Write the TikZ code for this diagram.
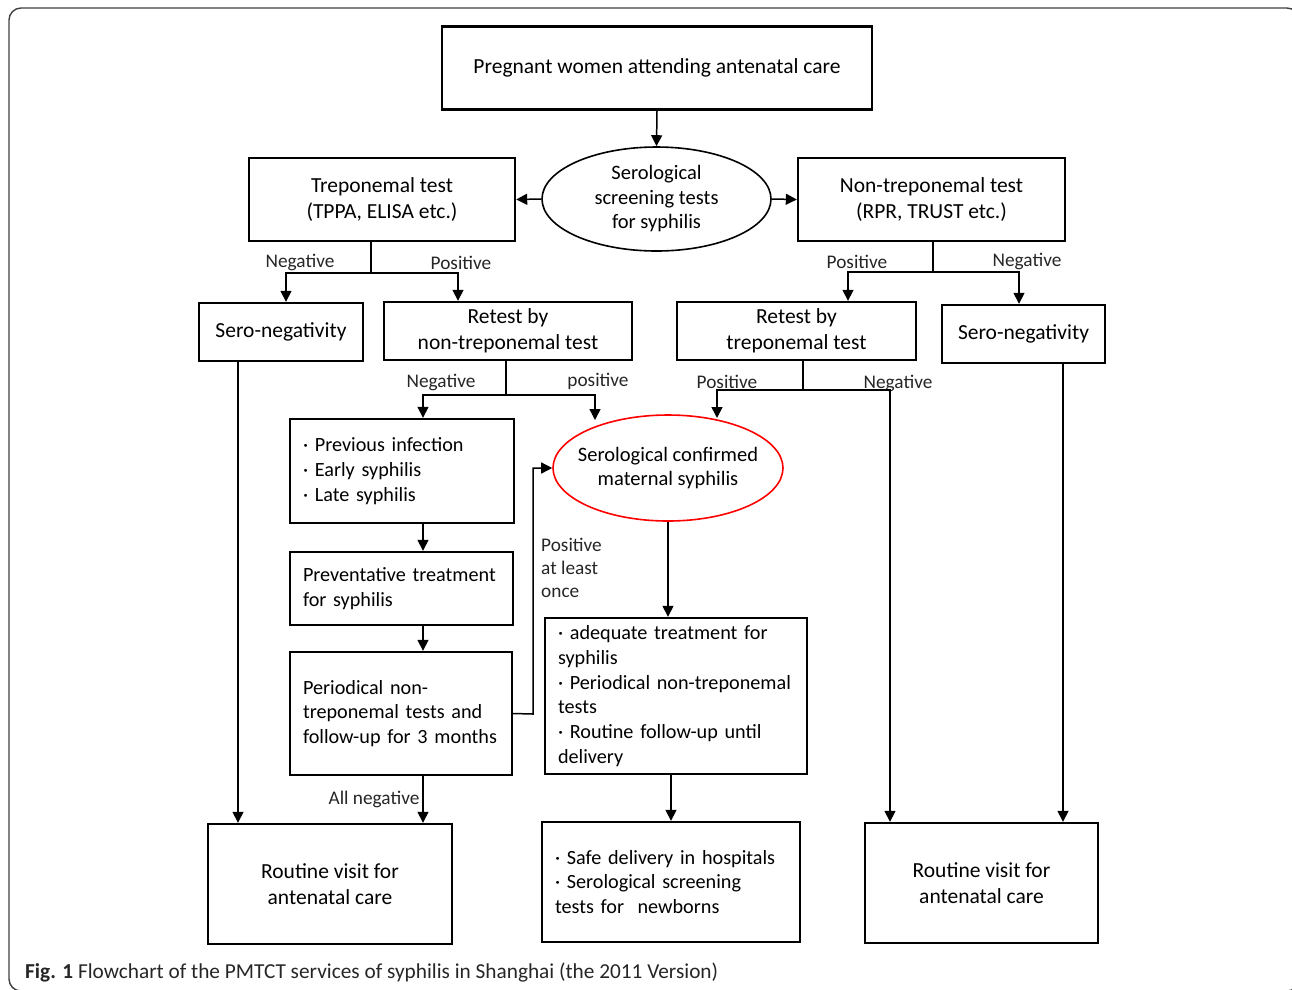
\documentclass[tikz,border=0pt]{standalone}
\usepackage{fontspec}
\setmainfont{Carlito}
\newfontfamily\listfam{Carlito}[WordSpace=0.8]
\usepackage{tikz}
\usetikzlibrary{shapes.geometric,arrows.meta}
\newcommand\boxfont{\fontsize{21.5}{25.5}\selectfont}
\newcommand\listfont{\listfam\fontsize{20.2}{24.7}\selectfont}
\newcommand\ovalfont{\fontsize{20.5}{24.5}\selectfont}
\newcommand\tagfont{\fontsize{19.3}{23}\selectfont}
\tikzset{
  box/.style={draw=black, line width=2.4pt, align=center, font=\boxfont, inner sep=0pt},
  listbox/.style={box, align=left, font=\listfont, inner xsep=13pt},
  oval/.style={ellipse, draw=black, line width=1.6pt, align=center, font=\ovalfont, inner sep=-15pt},
  redoval/.style={oval, draw=red},
  link/.style={-{Triangle[length=11pt,width=11pt]}, draw=black, line width=1.5pt},
  plain/.style={draw=black, line width=1.5pt},
  tagtext/.style={font=\tagfont, text=black!85, inner sep=0pt},
  frame/.style={draw=black!75, line width=1.4pt, rounded corners=12pt}
}

\begin{document}
\begin{tikzpicture}[x=1pt, y=-1pt]
  \useasboundingbox (0,0) rectangle (1292,989);
  \clip (0,0) rectangle (1292,989);
  \draw[frame] (9,8) rectangle (1299,991);

  % Screening
  \node[box, minimum width=430pt, minimum height=83pt] (top) at (657,68) {Pregnant women attending antenatal care};
  \node[oval, minimum width=229pt, minimum height=104pt] (screen) at (656.5,199) {Serological\\screening tests\\for syphilis};
  \node[box, minimum width=266pt, minimum height=83pt] (trep) at (382,199.5) {Treponemal test\\(TPPA, ELISA etc.)};
  \node[box, minimum width=267pt, minimum height=83pt] (nontrep) at (931.5,199.5) {Non-treponemal test\\(RPR, TRUST etc.)};
  \draw[link] (top.south) -- (screen.north);
  \draw[link] (screen.west) -- (trep.east);
  \draw[link] (screen.east) -- (nontrep.west);

  % First results
  \node[box, minimum width=164pt, minimum height=58pt] (seroL) at (281,332) {Sero-negativity};
  \node[box, minimum width=248pt, minimum height=58pt] (retestN) at (508,331) {Retest by\\non-treponemal test};
  \node[box, minimum width=239pt, minimum height=58pt] (retestT) at (796.5,331) {Retest by\\treponemal test};
  \node[box, minimum width=163pt, minimum height=58pt] (seroR) at (1023.5,334) {Sero-negativity};

  \coordinate (tj) at (371,273);
  \coordinate (tl) at (286,273);
  \coordinate (tr) at (458,273);
  \draw[plain] (tj |- trep.south) -- (tj);
  \draw[link] (tj) -- (tl) -- (tl |- seroL.north);
  \draw[link] (tj) -- (tr) -- (tr |- retestN.north);
  \node[tagtext] (tneg) at (300,262) {Negative};
  \node[tagtext] (tpos) at (461,263) {Positive};

  \coordinate (nj) at (933,272);
  \coordinate (nl) at (848,272);
  \coordinate (nr) at (1019,272);
  \draw[plain] (nj |- nontrep.south) -- (nj);
  \draw[link] (nj) -- (nl) -- (nl |- retestT.north);
  \draw[link] (nj) -- (nr) -- (nr |- seroR.north);
  \node[tagtext] (npos) at (857,262) {Positive};
  \node[tagtext] (nneg) at (1027,261) {Negative};

  % Middle part
  \node[listbox, minimum width=224pt, minimum height=104pt, text width=198pt] (prev) at (402,471) {· Previous infection\\· Early syphilis\\· Late syphilis};
  \node[redoval, minimum width=230pt, minimum height=106pt] (confirm) at (668,468) {Serological confirmed\\maternal syphilis};
  \node[listbox, minimum width=223pt, minimum height=73pt, text width=197pt] (prevent) at (401.5,588.5) {Preventative treatment\\for syphilis};
  \node[listbox, minimum width=222pt, minimum height=123pt, text width=196pt] (period) at (401,713.5) {Periodical non-\\treponemal tests and\\follow-up for 3 months};
  \node[listbox, minimum width=262pt, minimum height=156pt, text width=236pt] (adequate) at (676,696) {· adequate treatment for\\syphilis\\· Periodical non-treponemal\\tests\\· Routine follow-up until\\delivery};

  \coordinate (rj) at (506,395);
  \coordinate (rl) at (423,395);
  \coordinate (rr) at (595,395);
  \coordinate (cin) at (595,420);
  \draw[plain] (rj |- retestN.south) -- (rj);
  \draw[link] (rj) -- (rl) -- (rl |- prev.north);
  \draw[link] (rj) -- (rr) -- (cin);
  \node[tagtext] (rneg) at (441,382) {Negative};
  \node[tagtext] (rpos) at (598,381) {positive};

  \coordinate (sj) at (803,390);
  \coordinate (sl) at (717,390);
  \coordinate (sr) at (890,390);
  \coordinate (tin) at (717,418);
  \draw[plain] (sj |- retestT.south) -- (sj);
  \draw[link] (sj) -- (sl) -- (tin);
  \node[tagtext] (spos) at (727,382) {Positive};
  \node[tagtext] (sneg) at (898,383) {Negative};

  % Bottom row
  \node[box, minimum width=244pt, minimum height=120pt] (routineL) at (330,884) {Routine visit for\\antenatal care};
  \node[listbox, minimum width=258pt, minimum height=120pt, text width=232pt] (safe) at (671,882) {· Safe delivery in hospitals\\· Serological screening\\tests for~~newborns};
  \node[box, minimum width=233pt, minimum height=120pt] (routineR) at (981.5,883) {Routine visit for\\antenatal care};

  \coordinate (col) at (423,0);
  \coordinate (pc) at (533,714);
  \draw[link] (prev.south -| col) -- (prevent.north -| col);
  \draw[link] (prevent.south -| col) -- (period.north -| col);
  \draw[link] (period.south -| col) -- (routineL.north -| col);
  \node[tagtext] (allneg) at (374,799) {All negative};
  \draw[link] (period.east) -- (pc) |- (confirm.west);
  \node[tagtext, anchor=north west, align=left] (once) at (541,538) {Positive\\at least\\once};
  \draw[link] (confirm.south) -- (confirm.south |- adequate.north);
  \draw[link] (safe.north |- adequate.south) -- (safe.north);

  \coordinate (lx) at (238,0);
  \coordinate (rx) at (1063,0);
  \draw[link] (seroL.south -| lx) -- (routineL.north -| lx);
  \draw[link] (seroR.south -| rx) -- (routineR.north -| rx);
  \draw[link] (sj) -- (sr) -- (sr |- routineR.north);

  % Caption
  \node[anchor=base west, font=\fontsize{21.3}{25}\selectfont, text=black!85, inner sep=0pt] (cap) at (25,978) {\textbf{Fig. 1} Flowchart of the PMTCT services of syphilis in Shanghai (the 2011 Version)};
\end{tikzpicture}
\end{document}
